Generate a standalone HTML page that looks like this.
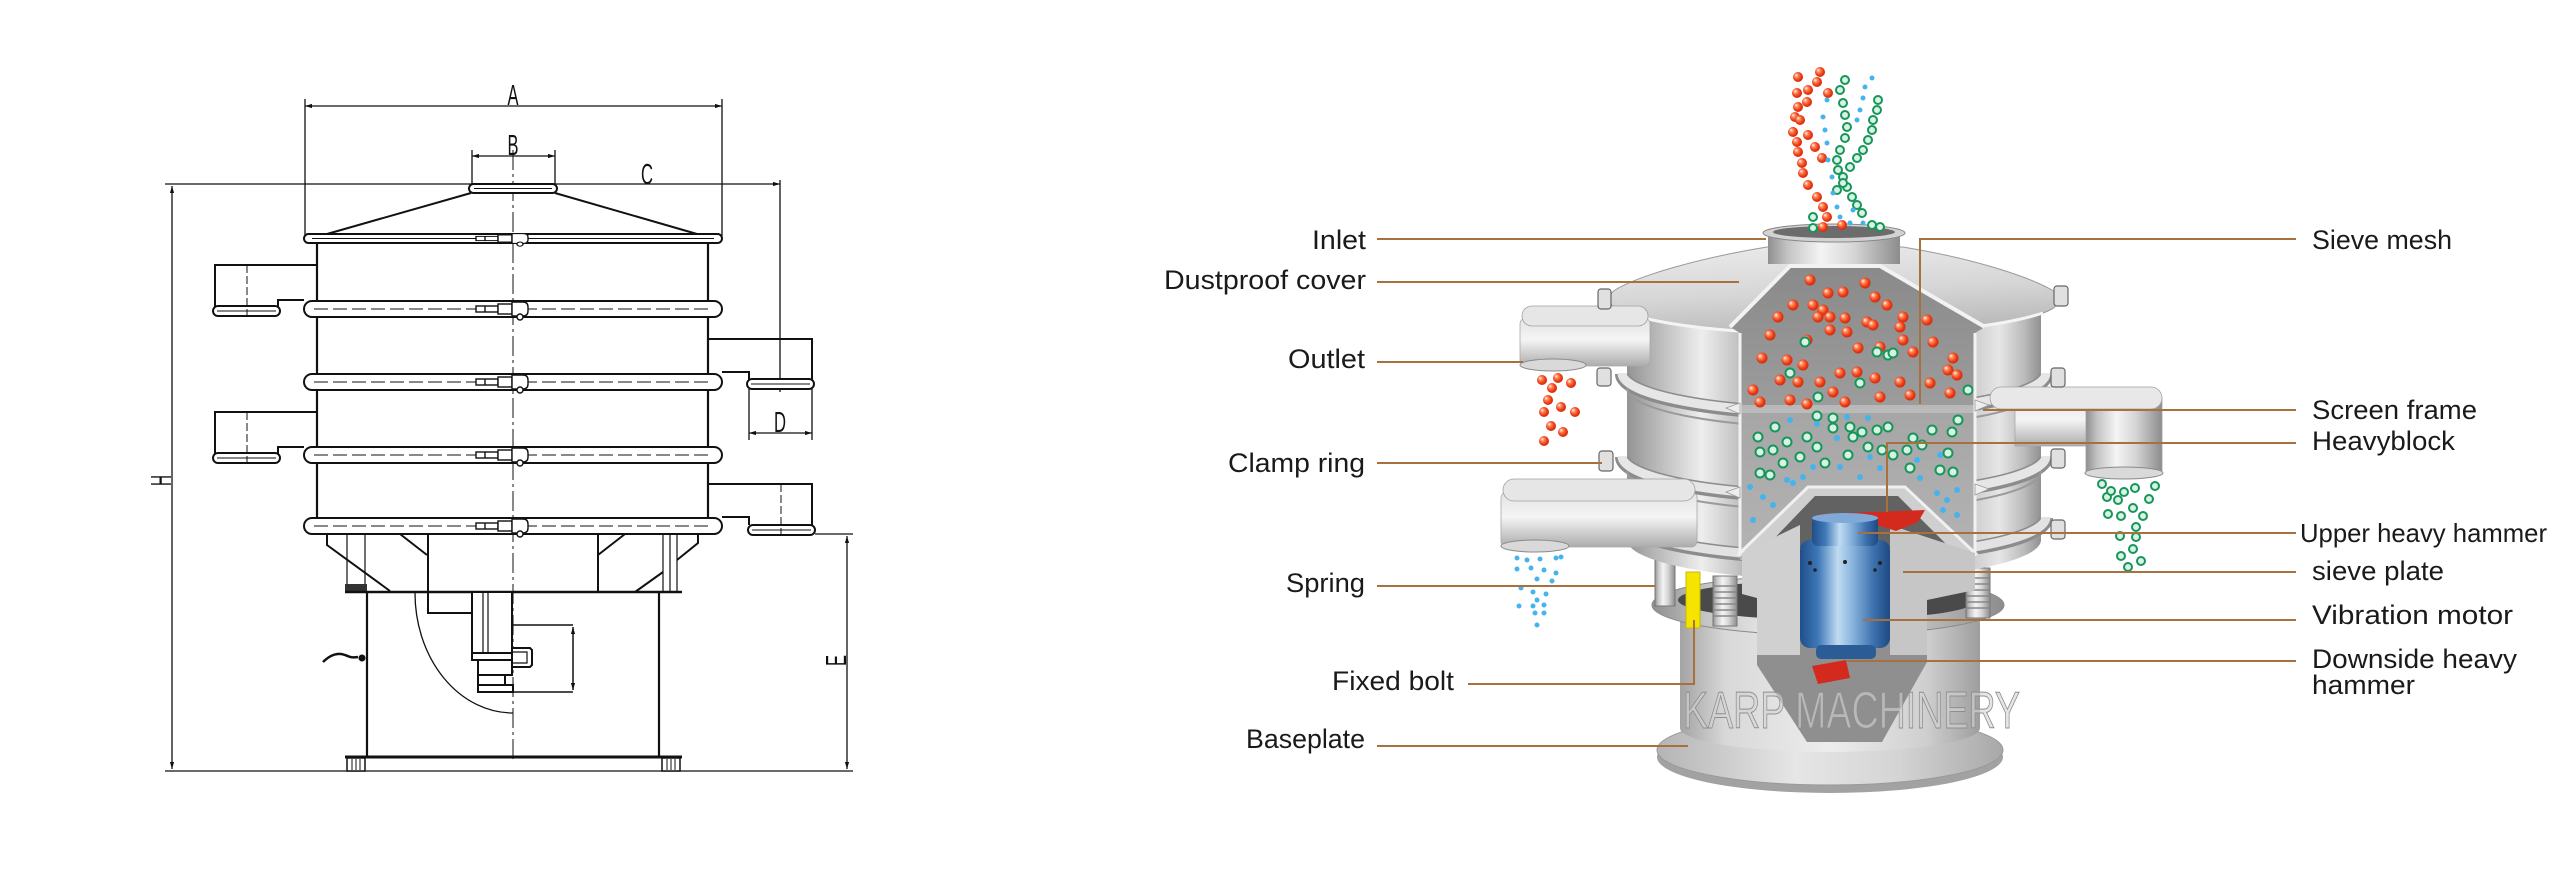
<!DOCTYPE html>
<html><head><meta charset="utf-8"><style>
html,body{margin:0;padding:0;background:#fff;}
svg{display:block;}
</style></head><body>
<svg width="2560" height="875" viewBox="0 0 2560 875" xmlns="http://www.w3.org/2000/svg">
<defs>
<marker id="ar" viewBox="0 0 10 10" refX="10" refY="5" markerWidth="9" markerHeight="7" orient="auto-start-reverse" markerUnits="userSpaceOnUse"><path d="M0,2 L10,5 L0,8 Z" fill="#111"/></marker>
<g id="clp" stroke="#111" stroke-width="1.4" fill="#fff">
 <rect x="476" y="-3" width="22" height="6"/>
 <line x1="485" y1="-3" x2="485" y2="3"/>
 <rect x="498" y="-5" width="14" height="10"/>
 <path d="M512,-7 h11 q5,0 5,5 v4 q0,5 -5,5 h-11 z"/>
 <circle cx="520" cy="8" r="3"/>
</g>
<linearGradient id="drum" gradientUnits="userSpaceOnUse" x1="1627" y1="0" x2="2041" y2="0">
 <stop offset="0" stop-color="#949494"/><stop offset=".1" stop-color="#c6c6c6"/><stop offset=".18" stop-color="#eeeeee"/><stop offset=".26" stop-color="#c6c6c6"/><stop offset=".3" stop-color="#acacac"/><stop offset=".84" stop-color="#cfcfcf"/><stop offset=".9" stop-color="#e6e6e6"/><stop offset=".96" stop-color="#bababa"/><stop offset="1" stop-color="#909090"/>
</linearGradient>
<linearGradient id="col" x1="0" y1="0" x2="1" y2="0">
 <stop offset="0" stop-color="#a3a3a3"/><stop offset=".15" stop-color="#d8d8d8"/><stop offset=".5" stop-color="#ededed"/><stop offset=".82" stop-color="#cfcfcf"/><stop offset="1" stop-color="#9e9e9e"/>
</linearGradient>
<linearGradient id="mH" x1="0" y1="0" x2="1" y2="0">
 <stop offset="0" stop-color="#8f8f8f"/><stop offset=".15" stop-color="#c4c4c4"/><stop offset=".4" stop-color="#f4f4f4"/><stop offset=".65" stop-color="#d6d6d6"/><stop offset="1" stop-color="#8c8c8c"/>
</linearGradient>
<linearGradient id="oV" x1="0" y1="0" x2="0" y2="1">
 <stop offset="0" stop-color="#e2e2e2"/><stop offset=".45" stop-color="#f5f5f5"/><stop offset="1" stop-color="#acacac"/>
</linearGradient>
<linearGradient id="cov" x1="0" y1="0" x2=".25" y2="1">
 <stop offset="0" stop-color="#ececec"/><stop offset=".6" stop-color="#d6d6d6"/><stop offset="1" stop-color="#bcbcbc"/>
</linearGradient>
<linearGradient id="intr" x1="0" y1="0" x2="0" y2="1">
 <stop offset="0" stop-color="#8a8a8a"/><stop offset=".48" stop-color="#9c9c9c"/><stop offset=".5" stop-color="#a6a6a6"/><stop offset="1" stop-color="#b4b4b4"/>
</linearGradient>
<linearGradient id="plate" x1="0" y1="0" x2="1" y2="0">
 <stop offset="0" stop-color="#b4b4b4"/><stop offset=".4" stop-color="#e6e6e6"/><stop offset=".7" stop-color="#d4d4d4"/><stop offset="1" stop-color="#a8a8a8"/>
</linearGradient>
<linearGradient id="blu" x1="0" y1="0" x2="1" y2="0">
 <stop offset="0" stop-color="#1f4f8a"/><stop offset=".2" stop-color="#3f78b8"/><stop offset=".42" stop-color="#c0dbf1"/><stop offset=".58" stop-color="#8ab4de"/><stop offset=".82" stop-color="#3c70ad"/><stop offset="1" stop-color="#1e4a82"/>
</linearGradient>
<radialGradient id="rd" cx=".45" cy=".45" r=".6" fx=".3" fy=".3">
 <stop offset="0" stop-color="#ffffff"/><stop offset=".3" stop-color="#ff8a60"/><stop offset=".7" stop-color="#ec3a12"/><stop offset="1" stop-color="#c8280a"/>
</radialGradient>
</defs>
<rect width="2560" height="875" fill="#fff"/>

<!-- ============ LEFT TECHNICAL DRAWING ============ -->
<g stroke="#111" fill="none" stroke-linecap="butt">
 <g stroke-width="1.3">
  <line x1="305" y1="106" x2="722" y2="106" marker-start="url(#ar)" marker-end="url(#ar)"/>
  <line x1="305" y1="99" x2="305" y2="236"/>
  <line x1="722" y1="99" x2="722" y2="236"/>
  <line x1="472" y1="156" x2="555" y2="156" marker-start="url(#ar)" marker-end="url(#ar)"/>
  <line x1="472" y1="150" x2="472" y2="186"/>
  <line x1="555" y1="150" x2="555" y2="186"/>
  <line x1="165" y1="184" x2="780" y2="184" marker-end="url(#ar)"/>
  <line x1="780" y1="180" x2="780" y2="392"/>
  <line x1="172" y1="186" x2="172" y2="769" marker-start="url(#ar)" marker-end="url(#ar)"/>
  <line x1="165" y1="771" x2="853" y2="771"/>
  <line x1="749" y1="389" x2="749" y2="440"/>
  <line x1="812" y1="389" x2="812" y2="440"/>
  <line x1="749" y1="433" x2="812" y2="433" marker-start="url(#ar)" marker-end="url(#ar)"/>
  <line x1="815" y1="534" x2="853" y2="534"/>
  <line x1="847" y1="536" x2="847" y2="769" marker-start="url(#ar)" marker-end="url(#ar)"/>
 </g>
 <line x1="513" y1="150" x2="513" y2="762" stroke-width="1" stroke-dasharray="20 4 3 4"/>

 <rect x="469" y="184" width="88" height="9" rx="4.5" fill="#fff" stroke-width="2"/>
 <line x1="474" y1="188.5" x2="552" y2="188.5" stroke-width="1"/>
 <line x1="471" y1="193" x2="327" y2="234" stroke-width="2"/>
 <line x1="555" y1="193" x2="697" y2="234" stroke-width="2"/>

 <line x1="317" y1="243" x2="317" y2="520" stroke-width="2.2"/>
 <line x1="708" y1="243" x2="708" y2="520" stroke-width="2.2"/>

 <g stroke-width="2">
  <path d="M317,265 L215,265 L215,307 M278,307 L278,300 L304,300"/>
  <rect x="213" y="306" width="67" height="10" rx="5" fill="#fff"/>
  <line x1="217" y1="311" x2="276" y2="311" stroke-width="1"/>
  <path d="M317,412 L215,412 L215,454 M278,454 L278,447 L304,447"/>
  <rect x="213" y="453" width="67" height="10" rx="5" fill="#fff"/>
  <line x1="217" y1="458" x2="276" y2="458" stroke-width="1"/>
 </g>
 <line x1="247" y1="265" x2="247" y2="316" stroke-width="1" stroke-dasharray="8 3"/>
 <line x1="247" y1="412" x2="247" y2="463" stroke-width="1" stroke-dasharray="8 3"/>

 <g stroke-width="2">
  <path d="M708,339 L812,339 L812,380 M749,380 L749,372 L722,372"/>
  <rect x="747" y="379" width="67" height="10" rx="5" fill="#fff"/>
  <line x1="751" y1="384" x2="810" y2="384" stroke-width="1"/>
  <path d="M708,484 L812,484 L812,525 M749,525 L749,517 L722,517"/>
  <rect x="748" y="525" width="67" height="10" rx="5" fill="#fff"/>
  <line x1="752" y1="530" x2="811" y2="530" stroke-width="1"/>
 </g>
 <line x1="781" y1="484" x2="781" y2="535" stroke-width="1" stroke-dasharray="8 3"/>

 <rect x="304" y="234" width="418" height="9" rx="4.5" fill="#fff" stroke-width="2"/>
 <line x1="312" y1="238.5" x2="714" y2="238.5" stroke-width="1"/>
 <g stroke-width="2" fill="#fff">
  <rect x="304" y="301" width="418" height="16" rx="8"/>
  <rect x="304" y="374" width="418" height="16" rx="8"/>
  <rect x="304" y="447" width="418" height="16" rx="8"/>
  <rect x="304" y="518" width="418" height="16" rx="8"/>
 </g>
 <g stroke-width="1" stroke-dasharray="14 5">
  <line x1="314" y1="309" x2="712" y2="309"/>
  <line x1="314" y1="382" x2="712" y2="382"/>
  <line x1="314" y1="455" x2="712" y2="455"/>
  <line x1="314" y1="526" x2="712" y2="526"/>
 </g>
 <use href="#clp" transform="translate(0,238.5) scale(1,0.7)"/>
 <use href="#clp" transform="translate(0,309)"/>
 <use href="#clp" transform="translate(0,382)"/>
 <use href="#clp" transform="translate(0,455)"/>
 <use href="#clp" transform="translate(0,526)"/>

 <g stroke-width="2">
  <path d="M327,534 L327,545 L390,591"/>
  <path d="M400,534 L427,555"/>
  <path d="M428,534 L428,592"/>
  <path d="M598,534 L598,592 M598,555 L625,534"/>
  <path d="M698,534 L698,543 L677,560"/>
  <path d="M635,592 L663,572"/>
 </g>
 <g stroke-width="1.2">
  <line x1="347" y1="534" x2="347" y2="592"/><line x1="365" y1="534" x2="365" y2="592"/>
  <line x1="663" y1="534" x2="663" y2="592"/><line x1="677" y1="534" x2="677" y2="592"/>
  <line x1="670" y1="534" x2="670" y2="592"/>
 </g>
 <rect x="345" y="584" width="22" height="7" fill="#333" stroke="none"/>
 <line x1="345" y1="592" x2="682" y2="592" stroke-width="2.6"/>
 <line x1="367" y1="592" x2="367" y2="757" stroke-width="2.2"/>
 <line x1="659" y1="592" x2="659" y2="757" stroke-width="2.2"/>
 <line x1="345" y1="757" x2="682" y2="757" stroke-width="3"/>
 <g stroke-width="1.5" fill="#fff">
  <rect x="347" y="758" width="18" height="13"/>
  <rect x="662" y="758" width="18" height="13"/>
 </g>
 <g stroke-width="1">
  <line x1="352" y1="759" x2="352" y2="770"/><line x1="356" y1="759" x2="356" y2="770"/><line x1="360" y1="759" x2="360" y2="770"/>
  <line x1="667" y1="759" x2="667" y2="770"/><line x1="671" y1="759" x2="671" y2="770"/><line x1="675" y1="759" x2="675" y2="770"/>
 </g>
 <g stroke-width="2" fill="#fff">
  <path d="M428,592 L428,613 L472,613" fill="none"/>
  <rect x="472" y="592" width="40" height="61"/>
  <rect x="472" y="653" width="40" height="7"/>
  <rect x="478" y="660" width="34" height="15"/>
  <rect x="478" y="675" width="27" height="10"/>
  <rect x="478" y="685" width="35" height="7"/>
  <path d="M513,648 L530,648 L532,650 L532,665 L530,667 L513,667"/>
  <path d="M513,652 L527,652 L527,663 L513,663" fill="none" stroke-width="1.2"/>
 </g>
 <line x1="483" y1="592" x2="483" y2="653" stroke-width="1.2"/>
 <line x1="488" y1="592" x2="488" y2="653" stroke-width="1.2"/>
 <g stroke-width="1.5">
  <path d="M513,625 L573,625 M513,692 L573,692"/>
  <line x1="573" y1="627" x2="573" y2="690" marker-start="url(#ar)" marker-end="url(#ar)"/>
 </g>
 <path d="M415,593 A98,120 0 0 0 513,713" stroke-width="1.3"/>
 <path d="M323,662 C330,655 338,652 345,655 C350,657 352,658 358,657" stroke-width="2.5"/>
 <circle cx="362" cy="658" r="3" fill="#111"/>
</g>
<g font-family="'Liberation Sans', sans-serif" font-size="29" fill="#111">
 <text x="507.5" y="105" textLength="11" lengthAdjust="spacingAndGlyphs">A</text>
 <text x="507.5" y="155" textLength="11" lengthAdjust="spacingAndGlyphs">B</text>
 <text x="641" y="184" textLength="12" lengthAdjust="spacingAndGlyphs">C</text>
 <text x="774" y="432" textLength="12" lengthAdjust="spacingAndGlyphs">D</text>
 <text transform="translate(846,666) rotate(-90)" x="0" y="0" textLength="11" lengthAdjust="spacingAndGlyphs">E</text>
 <text transform="translate(171,486) rotate(-90)" x="0" y="0" textLength="11" lengthAdjust="spacingAndGlyphs">H</text>
</g>

<!-- ============ RIGHT ILLUSTRATION ============ -->
<ellipse cx="1830" cy="757" rx="173" ry="36" fill="#a2a2a2"/>
<ellipse cx="1830" cy="750" rx="173" ry="35" fill="url(#plate)" stroke="#9a9a9a" stroke-width="1"/>
<path d="M1680,612 L1680,728 A150,24 0 0 0 1980,728 L1980,612 Z" fill="url(#col)"/>
<ellipse cx="1828" cy="605" rx="176" ry="30" fill="url(#mH)" stroke="#8a8a8a" stroke-width="1"/>
<ellipse cx="1828" cy="600" rx="150" ry="20" fill="#4a4a4a"/>
<g fill="url(#mH)" stroke="#777" stroke-width="1">
 <rect x="1655" y="560" width="20" height="46"/>
 <rect x="1713" y="576" width="24" height="50"/>
 <rect x="1966" y="568" width="24" height="50"/>
</g>
<g stroke="#888" stroke-width="1.5">
 <path d="M1714,586 h22 M1714,592 h22 M1714,598 h22 M1714,604 h22 M1714,610 h22 M1714,616 h22"/>
 <path d="M1967,578 h22 M1967,584 h22 M1967,590 h22 M1967,596 h22 M1967,602 h22 M1967,608 h22"/>
</g>
<!-- drum -->
<path d="M1627,300 L1627,540 A207,40 0 0 0 2041,540 L2041,300 Z" fill="url(#drum)"/>
<g fill="none">
 <path d="M1622,374 A212,40 0 0 0 2046,374" stroke="#8c8c8c" stroke-width="14"/>
 <path d="M1622,373 A212,40 0 0 0 2046,373" stroke="#e6e6e6" stroke-width="9"/>
 <path d="M1622,457 A212,40 0 0 0 2046,457" stroke="#8c8c8c" stroke-width="14"/>
 <path d="M1622,456 A212,40 0 0 0 2046,456" stroke="#e6e6e6" stroke-width="9"/>
 <path d="M1622,518 A212,40 0 0 0 2046,518" stroke="#8c8c8c" stroke-width="14"/>
 <path d="M1622,517 A212,40 0 0 0 2046,517" stroke="#e2e2e2" stroke-width="9"/>
 <path d="M1627,388 A207,40 0 0 0 2041,388" stroke="#9a9a9a" stroke-width="2"/>
 <path d="M1627,471 A207,40 0 0 0 2041,471" stroke="#9a9a9a" stroke-width="2"/>
</g>
<!-- cover -->
<path d="M1767,247 C1700,258 1640,275 1615,290 C1604,298 1610,308 1625,313 C1680,330 1760,334 1834,334 C1910,334 1990,330 2043,313 C2060,307 2064,298 2052,290 C2025,275 1970,258 1903,247 Z" fill="url(#cov)" stroke="#9a9a9a" stroke-width="1"/>
<path d="M1625,313 C1680,330 1760,334 1834,334 C1910,334 1990,330 2043,313" fill="none" stroke="#f4f4f4" stroke-width="3"/>
<rect x="1768" y="232" width="132" height="32" fill="url(#mH)"/>
<ellipse cx="1834" cy="233" rx="71" ry="9" fill="#d2d2d2" stroke="#888" stroke-width="1"/>
<ellipse cx="1834" cy="232" rx="61" ry="6" fill="#6c6c6c"/>
<!-- cutaway interior -->
<path d="M1790,266 L1880,266 L1985,327 L1975,333 L1975,560 L1740,560 L1740,333 L1730,327 Z" fill="url(#intr)"/>
<rect x="1742" y="405" width="232" height="8" fill="#c4c4c4" opacity=".7"/>
<g fill="none" stroke="#f2f2f2">
 <polyline points="1730,327 1790,266 1880,266 1985,327" stroke-width="4"/>
 <line x1="1740" y1="333" x2="1740" y2="556" stroke-width="3"/>
 <line x1="1975" y1="333" x2="1975" y2="556" stroke-width="3"/>
</g>
<g fill="#eeeeee" stroke="#9a9a9a" stroke-width=".8">
 <path d="M1740,403 L1726,408 L1740,414 Z"/>
 <path d="M1975,400 L1989,405 L1975,411 Z"/>
 <path d="M1740,487 L1726,492 L1740,498 Z"/>
 <path d="M1975,484 L1989,489 L1975,495 Z"/>
</g>
<path d="M1740,553 L1808,487 L1905,487 L1975,553 Z" fill="#cfcfcf" stroke="#f0f0f0" stroke-width="3"/>
<path d="M1765,548 L1815,496 L1898,496 L1950,548 Z" fill="#626262"/>
<path d="M1757,600 L1927,600 L1927,662 L1882,742 L1807,742 L1757,665 Z" fill="#8f8f8f"/>
<path d="M1742,553 L1800,525 L1800,655 L1757,655 L1757,598 L1742,594 Z" fill="#d0d0d0"/>
<path d="M1890,525 L1975,553 L1975,590 L1927,600 L1927,655 L1890,655 Z" fill="#c6c6c6"/>
<path d="M1820,514 L1925,510 L1918,522 L1896,531 L1880,526 L1826,523 Z" fill="#d42a1e"/>
<rect x="1800" y="540" width="90" height="108" rx="10" fill="url(#blu)"/>
<rect x="1812" y="516" width="66" height="30" rx="6" fill="url(#blu)"/>
<ellipse cx="1845" cy="518" rx="33" ry="5" fill="#7fa9d6"/>
<rect x="1816" y="645" width="60" height="14" rx="5" fill="#2b5c96"/>
<g fill="#222">
 <circle cx="1810" cy="563" r="2"/><circle cx="1845" cy="562" r="2"/><circle cx="1880" cy="563" r="2"/>
 <circle cx="1815" cy="570" r="1.8"/><circle cx="1875" cy="570" r="1.8"/>
</g>
<path d="M1812,666 L1846,660 L1850,678 L1818,684 Z" fill="#d42a1e"/>
<rect x="1686" y="572" width="14" height="56" fill="#f5e400" stroke="#c9b800" stroke-width="1"/>

<!-- outlets -->
<rect x="1520" y="318" width="130" height="48" rx="6" fill="url(#oV)" stroke="#a8a8a8" stroke-width=".8"/>
<rect x="1522" y="306" width="126" height="20" rx="10" fill="#e6e6e6" stroke="#a0a0a0" stroke-width=".8"/>
<ellipse cx="1553" cy="365" rx="33" ry="6" fill="#d9d9d9" stroke="#8a8a8a" stroke-width="1"/>
<rect x="1501" y="492" width="196" height="55" rx="6" fill="url(#oV)" stroke="#a8a8a8" stroke-width=".8"/>
<rect x="1503" y="479" width="192" height="22" rx="11" fill="#e6e6e6" stroke="#a0a0a0" stroke-width=".8"/>
<ellipse cx="1535" cy="546" rx="34" ry="6" fill="#d9d9d9" stroke="#8a8a8a" stroke-width="1"/>
<rect x="2015" y="398" width="90" height="48" fill="url(#oV)" stroke="#a8a8a8" stroke-width=".8"/>
<rect x="2086" y="398" width="76" height="74" fill="url(#mH)" stroke="#a0a0a0" stroke-width=".8"/>
<rect x="1990" y="387" width="172" height="22" rx="11" fill="#e8e8e8" stroke="#a0a0a0" stroke-width=".8"/>
<ellipse cx="2124" cy="473" rx="39" ry="6" fill="#d9d9d9" stroke="#8a8a8a" stroke-width="1"/>

<g fill="#e0e0e0" stroke="#666" stroke-width="1.2">
 <rect x="1598" y="289" width="13" height="20" rx="3"/>
 <rect x="1597" y="368" width="14" height="18" rx="3"/>
 <rect x="1599" y="451" width="14" height="20" rx="3"/>
 <rect x="2054" y="286" width="14" height="20" rx="3"/>
 <rect x="2051" y="368" width="14" height="19" rx="3"/>
 <rect x="2051" y="449" width="14" height="19" rx="3"/>
 <rect x="2051" y="520" width="14" height="19" rx="3"/>
</g>

<text x="1683" y="728" font-family="'Liberation Sans', sans-serif" font-size="52" textLength="337" lengthAdjust="spacingAndGlyphs" fill="#d4d4d4" fill-opacity=".6" stroke="#8e8e8e" stroke-width="1">KARP MACHINERY</text>

<!-- particles -->
<g fill="url(#rd)">
 <circle cx="1798" cy="77" r="5"/><circle cx="1820" cy="72" r="5"/><circle cx="1817" cy="82" r="5"/><circle cx="1808" cy="90" r="5"/><circle cx="1797" cy="93" r="5"/><circle cx="1828" cy="93" r="5"/><circle cx="1807" cy="102" r="5"/><circle cx="1798" cy="107" r="5"/><circle cx="1795" cy="117" r="5"/><circle cx="1800" cy="120" r="5"/><circle cx="1793" cy="132" r="5"/><circle cx="1808" cy="135" r="5"/><circle cx="1797" cy="142" r="5"/><circle cx="1815" cy="147" r="5"/><circle cx="1798" cy="152" r="5"/><circle cx="1822" cy="158" r="5"/><circle cx="1802" cy="163" r="5"/><circle cx="1803" cy="173" r="5"/><circle cx="1808" cy="185" r="5"/><circle cx="1817" cy="197" r="5"/><circle cx="1823" cy="207" r="5"/><circle cx="1827" cy="217" r="5"/><circle cx="1842" cy="225" r="5"/><circle cx="1823" cy="227" r="5"/>
 <circle cx="1810" cy="280" r="5.5"/><circle cx="1828" cy="293" r="5.5"/><circle cx="1843" cy="292" r="5.5"/><circle cx="1865" cy="283" r="5.5"/><circle cx="1875" cy="297" r="5.5"/><circle cx="1887" cy="305" r="5.5"/><circle cx="1793" cy="305" r="5.5"/><circle cx="1813" cy="305" r="5.5"/><circle cx="1823" cy="310" r="5.5"/><circle cx="1818" cy="317" r="5.5"/><circle cx="1830" cy="317" r="5.5"/><circle cx="1845" cy="318" r="5.5"/><circle cx="1867" cy="322" r="5.5"/><circle cx="1873" cy="325" r="5.5"/><circle cx="1903" cy="317" r="5.5"/><circle cx="1927" cy="320" r="5.5"/><circle cx="1778" cy="317" r="5.5"/><circle cx="1770" cy="335" r="5.5"/><circle cx="1830" cy="330" r="5.5"/><circle cx="1847" cy="332" r="5.5"/><circle cx="1900" cy="327" r="5.5"/><circle cx="1903" cy="340" r="5.5"/><circle cx="1933" cy="342" r="5.5"/><circle cx="1807" cy="340" r="5.5"/><circle cx="1858" cy="348" r="5.5"/><circle cx="1880" cy="347" r="5.5"/><circle cx="1913" cy="352" r="5.5"/><circle cx="1762" cy="358" r="5.5"/><circle cx="1787" cy="360" r="5.5"/><circle cx="1803" cy="365" r="5.5"/><circle cx="1840" cy="373" r="5.5"/><circle cx="1857" cy="372" r="5.5"/><circle cx="1875" cy="378" r="5.5"/><circle cx="1900" cy="382" r="5.5"/><circle cx="1953" cy="358" r="5.5"/><circle cx="1948" cy="370" r="5.5"/><circle cx="1957" cy="375" r="5.5"/><circle cx="1753" cy="390" r="5.5"/><circle cx="1780" cy="380" r="5.5"/><circle cx="1798" cy="382" r="5.5"/><circle cx="1820" cy="382" r="5.5"/><circle cx="1833" cy="392" r="5.5"/><circle cx="1845" cy="402" r="5.5"/><circle cx="1880" cy="397" r="5.5"/><circle cx="1910" cy="395" r="5.5"/><circle cx="1930" cy="383" r="5.5"/><circle cx="1950" cy="393" r="5.5"/><circle cx="1790" cy="400" r="5.5"/><circle cx="1760" cy="402" r="5.5"/><circle cx="1807" cy="404" r="5.5"/>
 <circle cx="1542" cy="380" r="5"/><circle cx="1558" cy="378" r="5"/><circle cx="1571" cy="383" r="5"/><circle cx="1552" cy="388" r="5"/><circle cx="1548" cy="400" r="5"/><circle cx="1561" cy="407" r="5"/><circle cx="1544" cy="412" r="5"/><circle cx="1575" cy="412" r="5"/><circle cx="1551" cy="426" r="5"/><circle cx="1563" cy="432" r="5"/><circle cx="1544" cy="441" r="5"/>
</g>
<g fill="#d8f2e4" stroke="#17955a" stroke-width="2">
 <circle cx="1845" cy="80" r="4"/><circle cx="1840" cy="90" r="4"/><circle cx="1843" cy="103" r="4"/><circle cx="1845" cy="115" r="4"/><circle cx="1847" cy="127" r="4"/><circle cx="1845" cy="138" r="4"/><circle cx="1840" cy="150" r="4"/><circle cx="1837" cy="160" r="4"/><circle cx="1838" cy="170" r="4"/><circle cx="1843" cy="177" r="4"/><circle cx="1847" cy="187" r="4"/><circle cx="1852" cy="197" r="4"/><circle cx="1857" cy="205" r="4"/><circle cx="1862" cy="213" r="4"/><circle cx="1872" cy="225" r="4"/><circle cx="1880" cy="227" r="4"/><circle cx="1878" cy="100" r="4"/><circle cx="1877" cy="110" r="4"/><circle cx="1873" cy="120" r="4"/><circle cx="1872" cy="130" r="4"/><circle cx="1868" cy="140" r="4"/><circle cx="1863" cy="150" r="4"/><circle cx="1857" cy="158" r="4"/><circle cx="1850" cy="167" r="4"/><circle cx="1843" cy="183" r="4"/><circle cx="1837" cy="190" r="4"/><circle cx="1813" cy="217" r="4"/><circle cx="1813" cy="228" r="4"/>
 <circle cx="1805" cy="342" r="4.5"/><circle cx="1888" cy="355" r="4.5"/><circle cx="1893" cy="353" r="4.5"/><circle cx="1877" cy="352" r="4.5"/><circle cx="1860" cy="383" r="4.5"/><circle cx="1818" cy="397" r="4.5"/><circle cx="1968" cy="390" r="4.5"/><circle cx="1833" cy="418" r="4.5"/><circle cx="1817" cy="416" r="4.5"/><circle cx="1790" cy="373" r="4.5"/>
 <circle cx="1775" cy="427" r="4.5"/><circle cx="1758" cy="437" r="4.5"/><circle cx="1787" cy="442" r="4.5"/><circle cx="1807" cy="437" r="4.5"/><circle cx="1833" cy="428" r="4.5"/><circle cx="1850" cy="427" r="4.5"/><circle cx="1862" cy="432" r="4.5"/><circle cx="1877" cy="430" r="4.5"/><circle cx="1888" cy="427" r="4.5"/><circle cx="1913" cy="438" r="4.5"/><circle cx="1932" cy="430" r="4.5"/><circle cx="1952" cy="432" r="4.5"/><circle cx="1958" cy="420" r="4.5"/><circle cx="1760" cy="452" r="4.5"/><circle cx="1773" cy="450" r="4.5"/><circle cx="1800" cy="457" r="4.5"/><circle cx="1817" cy="447" r="4.5"/><circle cx="1848" cy="455" r="4.5"/><circle cx="1868" cy="447" r="4.5"/><circle cx="1882" cy="450" r="4.5"/><circle cx="1893" cy="455" r="4.5"/><circle cx="1907" cy="450" r="4.5"/><circle cx="1922" cy="445" r="4.5"/><circle cx="1948" cy="453" r="4.5"/><circle cx="1760" cy="473" r="4.5"/><circle cx="1770" cy="475" r="4.5"/><circle cx="1783" cy="463" r="4.5"/><circle cx="1825" cy="463" r="4.5"/><circle cx="1910" cy="468" r="4.5"/><circle cx="1940" cy="470" r="4.5"/><circle cx="1953" cy="472" r="4.5"/><circle cx="1853" cy="437" r="4.5"/>
 <circle cx="2102" cy="484" r="4"/><circle cx="2107" cy="497" r="4"/><circle cx="2111" cy="491" r="4"/><circle cx="2124" cy="492" r="4"/><circle cx="2118" cy="500" r="4"/><circle cx="2135" cy="488" r="4"/><circle cx="2155" cy="486" r="4"/><circle cx="2149" cy="499" r="4"/><circle cx="2133" cy="508" r="4"/><circle cx="2108" cy="514" r="4"/><circle cx="2121" cy="516" r="4"/><circle cx="2143" cy="516" r="4"/><circle cx="2136" cy="527" r="4"/><circle cx="2120" cy="536" r="4"/><circle cx="2136" cy="537" r="4"/><circle cx="2133" cy="549" r="4"/><circle cx="2121" cy="556" r="4"/><circle cx="2141" cy="561" r="4"/><circle cx="2128" cy="567" r="4"/>
</g>
<g fill="#45b4ec">
 <circle cx="1872" cy="78" r="2.5"/><circle cx="1865" cy="87" r="2.5"/><circle cx="1863" cy="98" r="2.5"/><circle cx="1860" cy="110" r="2.5"/><circle cx="1857" cy="120" r="2.5"/><circle cx="1827" cy="100" r="2.5"/><circle cx="1823" cy="117" r="2.5"/><circle cx="1825" cy="130" r="2.5"/><circle cx="1827" cy="143" r="2.5"/><circle cx="1828" cy="160" r="2.5"/><circle cx="1832" cy="177" r="2.5"/><circle cx="1833" cy="193" r="2.5"/><circle cx="1837" cy="207" r="2.5"/><circle cx="1840" cy="217" r="2.5"/><circle cx="1853" cy="210" r="2.5"/><circle cx="1850" cy="223" r="2.5"/><circle cx="1863" cy="223" r="2.5"/>
 <circle cx="1790" cy="420" r="3"/><circle cx="1817" cy="424" r="3"/><circle cx="1847" cy="417" r="3"/><circle cx="1868" cy="418" r="3"/><circle cx="1837" cy="438" r="3"/><circle cx="1940" cy="455" r="3"/><circle cx="1787" cy="480" r="3"/><circle cx="1803" cy="477" r="3"/><circle cx="1813" cy="467" r="3"/><circle cx="1840" cy="467" r="3"/><circle cx="1860" cy="477" r="3"/><circle cx="1880" cy="468" r="3"/><circle cx="1920" cy="478" r="3"/><circle cx="1750" cy="487" r="3"/><circle cx="1763" cy="497" r="3"/><circle cx="1753" cy="520" r="3"/><circle cx="1773" cy="505" r="3"/><circle cx="1937" cy="493" r="3"/><circle cx="1947" cy="500" r="3"/><circle cx="1957" cy="490" r="3"/><circle cx="1957" cy="515" r="3"/><circle cx="1943" cy="510" r="3"/><circle cx="1793" cy="483" r="3"/><circle cx="1870" cy="457" r="3"/><circle cx="1917" cy="460" r="3"/>
 <circle cx="1517" cy="558" r="2.5"/><circle cx="1527" cy="560" r="2.5"/><circle cx="1540" cy="559" r="2.5"/><circle cx="1556" cy="558" r="2.5"/><circle cx="1561" cy="557" r="2.5"/><circle cx="1517" cy="569" r="2.5"/><circle cx="1531" cy="568" r="2.5"/><circle cx="1544" cy="570" r="2.5"/><circle cx="1556" cy="573" r="2.5"/><circle cx="1537" cy="579" r="2.5"/><circle cx="1552" cy="581" r="2.5"/><circle cx="1521" cy="588" r="2.5"/><circle cx="1533" cy="592" r="2.5"/><circle cx="1546" cy="594" r="2.5"/><circle cx="1537" cy="600" r="2.5"/><circle cx="1519" cy="606" r="2.5"/><circle cx="1533" cy="606" r="2.5"/><circle cx="1544" cy="605" r="2.5"/><circle cx="1535" cy="613" r="2.5"/><circle cx="1544" cy="613" r="2.5"/><circle cx="1537" cy="625" r="2.5"/>
</g>

<g fill="none" stroke="#a86f3f" stroke-width="2">
 <path d="M1377,239 H1766"/>
 <path d="M1377,282 H1739"/>
 <path d="M1377,362 H1523"/>
 <path d="M1377,463 H1602"/>
 <path d="M1377,586 H1655"/>
 <path d="M1468,684 H1694 V620"/>
 <path d="M1377,746 H1688"/>
 <path d="M1920,404 V239 H2296"/>
 <path d="M1983,410 H2296"/>
 <path d="M1887,512 V443 H2296"/>
 <path d="M1858,533 H2296"/>
 <path d="M1903,572 H2296"/>
 <path d="M1863,620 H2296"/>
 <path d="M1847,661 H2296"/>
</g>

<g font-family="'Liberation Sans', sans-serif" font-size="27" fill="#1a1a1a">
 <text x="1312" y="249" textLength="54" lengthAdjust="spacingAndGlyphs">Inlet</text>
 <text x="1164" y="289" textLength="202" lengthAdjust="spacingAndGlyphs">Dustproof cover</text>
 <text x="1288" y="368" textLength="77" lengthAdjust="spacingAndGlyphs">Outlet</text>
 <text x="1228" y="472" textLength="137" lengthAdjust="spacingAndGlyphs">Clamp ring</text>
 <text x="1286" y="592" textLength="79" lengthAdjust="spacingAndGlyphs">Spring</text>
 <text x="1332" y="690" textLength="122" lengthAdjust="spacingAndGlyphs">Fixed bolt</text>
 <text x="1246" y="748" textLength="119" lengthAdjust="spacingAndGlyphs">Baseplate</text>
 <text x="2312" y="249" textLength="140" lengthAdjust="spacingAndGlyphs">Sieve mesh</text>
 <text x="2312" y="419" textLength="165" lengthAdjust="spacingAndGlyphs">Screen frame</text>
 <text x="2312" y="450" textLength="143" lengthAdjust="spacingAndGlyphs">Heavyblock</text>
 <text x="2300" y="542" font-size="26" textLength="247" lengthAdjust="spacingAndGlyphs">Upper heavy hammer</text>
 <text x="2312" y="580" textLength="132" lengthAdjust="spacingAndGlyphs">sieve plate</text>
 <text x="2312" y="624" textLength="201" lengthAdjust="spacingAndGlyphs">Vibration motor</text>
 <text x="2312" y="668" textLength="205" lengthAdjust="spacingAndGlyphs">Downside heavy</text>
 <text x="2312" y="694" textLength="103" lengthAdjust="spacingAndGlyphs">hammer</text>
</g>
</svg>
</body></html>
